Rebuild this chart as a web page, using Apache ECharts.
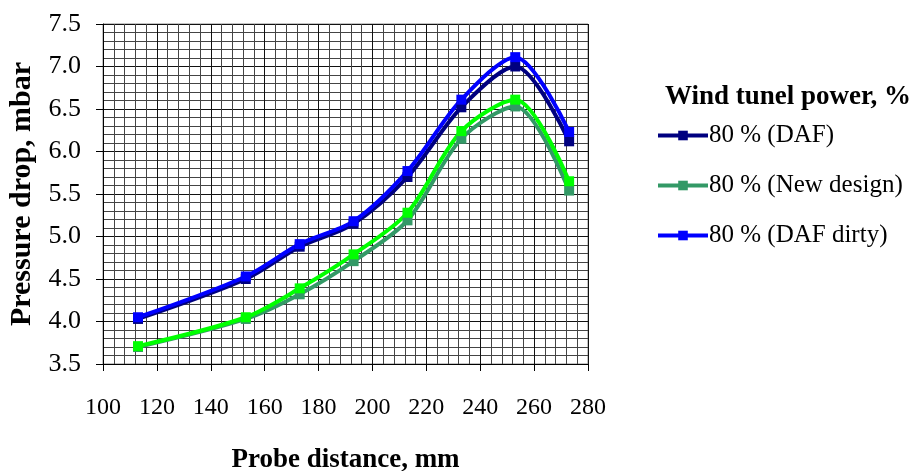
<!DOCTYPE html>
<html>
<head>
<meta charset="utf-8">
<script src="https://cdn.jsdelivr.net/npm/echarts@6/dist/echarts.min.js"></script>
<style>
  html, body { margin: 0; padding: 0; background: #fff; }
  #chart { width: 919px; height: 471px; }
</style>
</head>
<body>
<div id="chart"></div>
<script>
var xdata = [113, 153, 173, 193, 213, 233, 253, 273]
var dafData = [4.03, 4.50, 4.88, 5.15, 5.70, 6.52, 7.00, 6.12]
var newDesignData = [3.70, 4.03, 4.32, 4.71, 5.19, 6.15, 6.53, 5.54]
var dafDirtyData = [4.05, 4.53, 4.91, 5.18, 5.77, 6.61, 7.11, 6.23]
var greenData = [3.71, 4.05, 4.39, 4.79, 5.28, 6.24, 6.61, 5.65]

function pairs(ys) {
  var out = []
  for (var i = 0; i < xdata.length; i++) out.push([xdata[i], ys[i]])
  return out
}

var font = 'Liberation Serif'
var myChart = echarts.init(document.getElementById('chart'))

function makeSeries(name, color, data) {
  return {
    name: name,
    type: 'line',
    smooth: 0.3,
    symbol: 'rect',
    symbolSize: 10,
    lineStyle: { color: color, width: 4 },
    itemStyle: { color: color },
    data: pairs(data),
    z: 3
  }
}

var option = {
  backgroundColor: '#fff',
  animation: false,
  title: {
    text: 'Wind tunel power, %',
    left: 660,
    top: 79,
    textStyle: { fontFamily: font, fontSize: 27, fontWeight: 'bold', color: '#000' }
  },
  legend: {
    orient: 'vertical',
    left: 651,
    top: 118,
    itemGap: 25,
    itemWidth: 50,
    itemHeight: 12,
    lineStyle: { width: 4 },
    data: ['80 % (DAF)', '80 % (New design)', '80 % (DAF dirty)'],
    textStyle: { fontFamily: font, fontSize: 25, color: '#000', padding: [0, 0, 0, -4] }
  },
  grid: {
    left: 103,
    top: 24,
    right: 331,
    bottom: 107,
    outerBoundsMode: 'none',
    show: true,
    borderColor: '#888',
    borderWidth: 1
  },
  xAxis: {
    type: 'value',
    min: 100,
    max: 280,
    interval: 20,
    name: 'Probe distance, mm',
    nameLocation: 'middle',
    nameGap: 83,
    nameTextStyle: { fontFamily: font, fontSize: 27, fontWeight: 'bold', color: '#000' },
    axisLine: { show: true, onZero: false, lineStyle: { color: '#000', width: 1 } },
    axisTick: { show: true, length: 7, lineStyle: { color: '#000' } },
    axisLabel: { fontFamily: font, fontSize: 24, color: '#000', margin: 32 },
    splitLine: { show: true, lineStyle: { color: '#111', width: 1 } },
    minorTick: { show: false, splitNumber: 5 },
    minorSplitLine: { show: true, lineStyle: { color: '#444', width: 1 } }
  },
  yAxis: {
    type: 'value',
    min: 3.5,
    max: 7.5,
    interval: 0.5,
    name: 'Pressure drop, mbar',
    nameLocation: 'middle',
    nameGap: 62,
    nameTextStyle: { fontFamily: font, fontSize: 30, fontWeight: 'bold', color: '#000' },
    axisLine: { show: true, lineStyle: { color: '#000', width: 1 } },
    axisTick: { show: true, length: 7, lineStyle: { color: '#000' } },
    axisLabel: {
      fontFamily: font, fontSize: 26, color: '#000', margin: 22,
      formatter: function (v) { return v.toFixed(1) }
    },
    splitLine: { show: true, lineStyle: { color: '#111', width: 1 } },
    minorTick: { show: false, splitNumber: 5 },
    minorSplitLine: { show: true, lineStyle: { color: '#444', width: 1 } }
  },
  series: [
    makeSeries('80 % (DAF)', '#000080', dafData),
    makeSeries('80 % (New design)', '#339966', newDesignData),
    makeSeries('80 % (DAF dirty)', '#0000FF', dafDirtyData),
    makeSeries('80 % (clean)', '#00FF00', greenData)
  ]
};
myChart.setOption(option);
window.addEventListener('resize', function () {
  myChart.resize();
});
</script>
</body>
</html>
